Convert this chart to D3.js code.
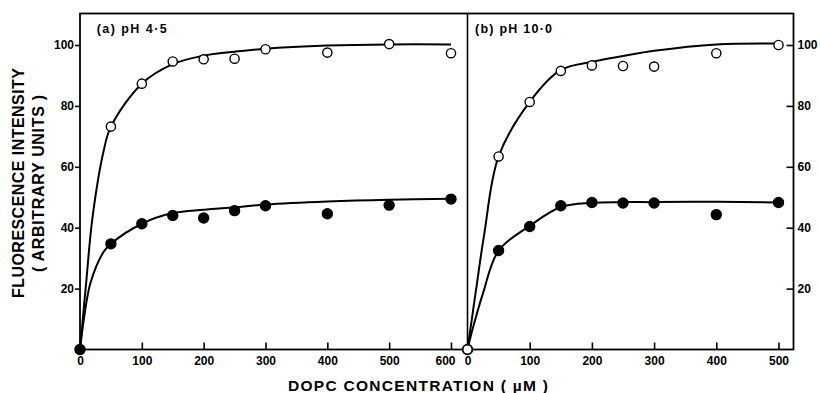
<!DOCTYPE html>
<html>
<head>
<meta charset="utf-8">
<script src="https://cdn.jsdelivr.net/npm/d3@7"></script>
<style>
  html, body { margin: 0; padding: 0; background: #fff; }
  svg { display: block; }
  text { font-family: "Liberation Sans", Arial, sans-serif; font-weight: bold; fill: #000; }
</style>
</head>
<body>
<svg id="chart" width="820" height="393"></svg>
<script>
// Measured points: DOPC concentration (µM) vs fluorescence (arbitrary units)
const concA   = [0, 50, 100, 150, 200, 250, 300, 400, 500, 600];
const openA   = [0, 73.2, 87.3, 94.6, 95.3, 95.5, 98.6, 97.5, 100.3, 97.3];
const filledA = [0, 34.7, 41.3, 44.0, 43.2, 45.6, 47.2, 44.6, 47.4, 49.4];

const concB   = [0, 50, 100, 150, 200, 250, 300, 400, 500];
const openB   = [0, 63.4, 81.3, 91.5, 93.3, 93.1, 92.9, 97.3, 100.0];
const filledB = [0, 32.5, 40.4, 47.2, 48.3, 48.1, 48.1, 44.3, 48.3];

// Hand-drawn fitted curves, traced as (concentration, intensity) pairs
const fitOpenAx   = [0, 10, 20, 38, 50, 100, 150, 200, 250, 300, 400, 500, 600];
const fitOpenAy   = [0, 22, 43, 65, 73.2, 87.3, 93.7, 96.5, 97.8, 98.8, 99.8, 100.2, 100.2];
const fitFilledAx = [0, 7, 17, 38, 50, 100, 150, 200, 250, 300, 400, 500, 600];
const fitFilledAy = [0, 11, 21.9, 32, 34.7, 41.3, 44.8, 45.9, 46.7, 47.6, 48.6, 49.2, 49.5];
const fitOpenBx   = [0, 7, 14, 27, 50, 100, 150, 200, 250, 300, 400, 500];
const fitOpenBy   = [0, 10, 20, 38, 63.4, 81.3, 91.8, 94.5, 96.4, 98.1, 100.2, 100.5];
const fitFilledBx = [0, 6, 12, 25, 50, 100, 150, 200, 250, 300, 400, 500];
const fitFilledBy = [0, 5, 9.5, 18.5, 32.5, 40.6, 46.8, 48.2, 48.4, 48.4, 48.5, 48.3];

const ticksA = [0, 100, 200, 300, 400, 500, 600];
const ticksB = [0, 100, 200, 300, 400, 500];
const ticksY = [20, 40, 60, 80, 100];

const panelLabelA = "(a) pH 4·5";
const panelLabelB = "(b) pH 10·0";
const yTitle1 = "FLUORESCENCE INTENSITY";
const yTitle2 = "( ARBITRARY UNITS )";
const xTitle = "DOPC CONCENTRATION ( µM )";

// Layout
const frame = { left: 80, right: 793.5, top: 13.5, bottom: 349.5, split: 467.5 };

const svg = d3.select("#chart");

const y  = d3.scaleLinear().domain([0, 100]).range([frame.bottom, 45]);
const xA = d3.scaleLinear().domain([0, 600]).range([frame.left, 451]);
const xB = d3.scaleLinear().domain([0, 500]).range([frame.split, 778.5]);

// Frame and panel divider
svg.append("rect")
  .attr("x", frame.left).attr("y", frame.top)
  .attr("width", frame.right - frame.left).attr("height", frame.bottom - frame.top)
  .attr("fill", "none").attr("stroke", "#000").attr("stroke-width", 1.8);
svg.append("line")
  .attr("x1", frame.split).attr("x2", frame.split)
  .attr("y1", frame.top).attr("y2", frame.bottom)
  .attr("stroke", "#000").attr("stroke-width", 1.6);

function styleAxis(g) {
  g.select(".domain").remove();
  g.selectAll(".tick line").attr("stroke", "#000").attr("stroke-width", 1.6);
  g.selectAll(".tick text").attr("font-size", 12).attr("font-family", "Liberation Sans, Arial, sans-serif")
    .attr("font-weight", "bold").attr("fill", "#000");
}

// Y axes (left outward ticks, right inward ticks)
svg.append("g").attr("transform", `translate(${frame.left},0)`)
  .call(d3.axisLeft(y).tickValues(ticksY).tickSize(5).tickPadding(1))
  .call(styleAxis);
svg.append("g").attr("transform", `translate(${frame.right},0)`)
  .call(d3.axisRight(y).tickValues(ticksY).tickSize(-7).tickPadding(4))
  .call(styleAxis);

// X axes for the two panels
svg.append("g").attr("transform", `translate(0,${frame.bottom})`)
  .call(d3.axisBottom(xA).tickValues(ticksA).tickSize(-7).tickPadding(6.5))
  .call(styleAxis)
  .call(g => g.selectAll(".tick").filter(d => d === 600).select("text").attr("dx", -6));
svg.append("g").attr("transform", `translate(0,${frame.bottom})`)
  .call(d3.axisBottom(xB).tickValues(ticksB).tickSize(-7).tickPadding(6.5))
  .call(styleAxis)
  .call(g => g.selectAll(".tick").filter(d => d === 0).select("line").remove());

// Fitted curves
function drawCurve(xs, ys, xScale) {
  const pts = xs.map((v, i) => [v, ys[i]]);
  const line = d3.line().x(d => xScale(d[0])).y(d => y(d[1])).curve(d3.curveCatmullRom.alpha(0.5));
  svg.append("path").attr("d", line(pts))
    .attr("fill", "none").attr("stroke", "#000").attr("stroke-width", 2);
}
drawCurve(fitOpenAx, fitOpenAy, xA);
drawCurve(fitFilledAx, fitFilledAy, xA);
drawCurve(fitOpenBx, fitOpenBy, xB);
drawCurve(fitFilledBx, fitFilledBy, xB);

// Data points
function drawPoints(xs, ys, xScale, filled) {
  svg.append("g").selectAll("circle")
    .data(xs.map((v, i) => [v, ys[i]]))
    .join("circle")
    .attr("cx", d => xScale(d[0])).attr("cy", d => y(d[1]))
    .attr("r", filled ? 5 : 4.6)
    .attr("fill", filled ? "#000" : "#fff")
    .attr("stroke", "#000").attr("stroke-width", 1.4);
}
drawPoints(concA, openA, xA, false);
drawPoints(concA, filledA, xA, true);
drawPoints(concB, filledB, xB, true);
drawPoints(concB, openB, xB, false);

// Panel labels
svg.append("text").attr("x", 96.7).attr("y", 33.3).attr("font-size", 12.5)
  .attr("textLength", 70).attr("lengthAdjust", "spacing").text(panelLabelA);
svg.append("text").attr("x", 475).attr("y", 33.3).attr("font-size", 12.5)
  .attr("textLength", 77).attr("lengthAdjust", "spacing").text(panelLabelB);

// Axis titles
svg.append("text").attr("transform", "translate(23.5,183) rotate(-90)")
  .attr("text-anchor", "middle").attr("font-size", 16)
  .attr("textLength", 230).attr("lengthAdjust", "spacing").text(yTitle1);
svg.append("text").attr("transform", "translate(43.5,183.5) rotate(-90)")
  .attr("text-anchor", "middle").attr("font-size", 16)
  .attr("textLength", 177).attr("lengthAdjust", "spacing").text(yTitle2);
svg.append("text").attr("x", 418).attr("y", 391)
  .attr("text-anchor", "middle").attr("font-size", 15.5)
  .attr("textLength", 260).attr("lengthAdjust", "spacing").text(xTitle);
</script>
</body>
</html>
